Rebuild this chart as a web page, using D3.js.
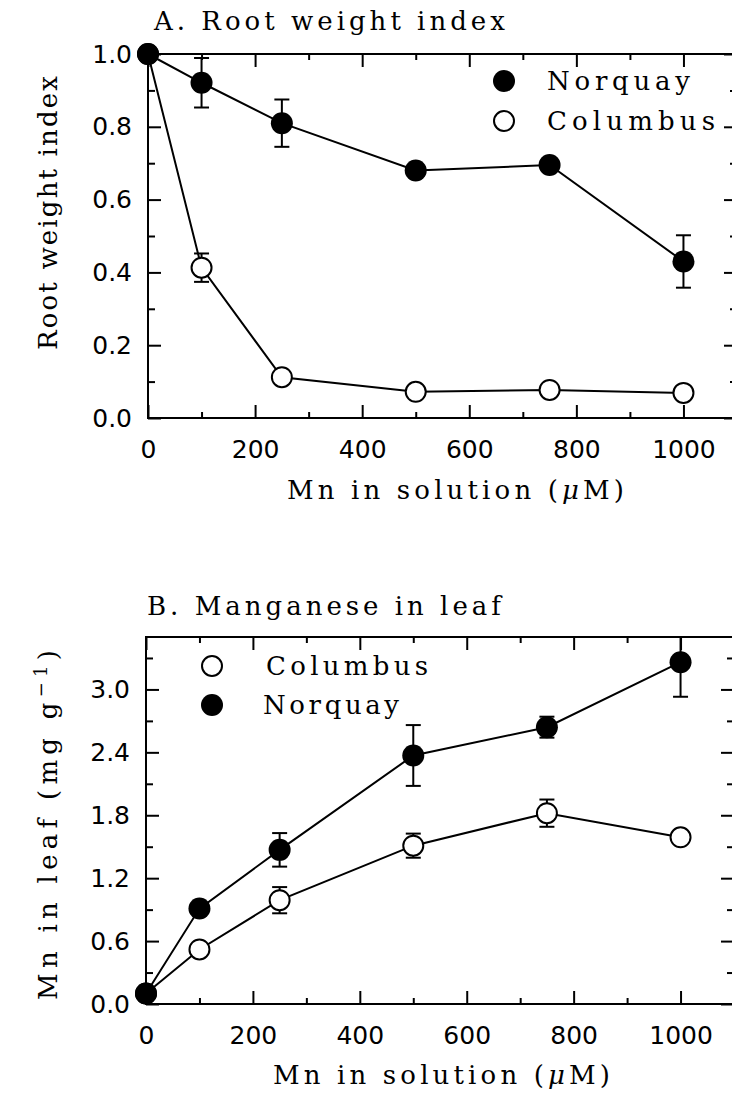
<!DOCTYPE html>
<html><head><meta charset="utf-8">
<script src="https://cdn.jsdelivr.net/npm/d3@7"></script>
<style>body{margin:0;background:#fff}</style>
</head><body>
<svg id="c" width="732" height="1096"></svg>
<script>
// ---- data ----
const doses = [0, 100, 250, 500, 750, 1000];
const rootNorquay = [1.0, 0.921, 0.81, 0.68, 0.695, 0.43];
const rootNorquayErr = [0, 0.068, 0.065, 0.015, 0.015, 0.072];
const rootColumbus = [1.0, 0.413, 0.112, 0.072, 0.077, 0.069];
const rootColumbusErr = [0, 0.039, 0.01, 0.01, 0.01, 0.01];
const leafColumbus = [0.1, 0.52, 0.99, 1.51, 1.82, 1.59];
const leafColumbusErr = [0, 0.03, 0.125, 0.115, 0.13, 0.04];
const leafNorquay = [0.1, 0.91, 1.47, 2.37, 2.64, 3.26];
const leafNorquayErr = [0, 0.04, 0.16, 0.29, 0.1, 0.33];
const xTickValues = [0, 200, 400, 600, 800, 1000];
const xMinorValues = [100, 300, 500, 700, 900];
const rootTickValues = [0, 0.2, 0.4, 0.6, 0.8, 1.0];
const rootMinorValues = [0.1, 0.3, 0.5, 0.7, 0.9];
const leafTickValues = [0, 0.6, 1.2, 1.8, 2.4, 3.0];
const leafMinorValues = [0.3, 0.9, 1.5, 2.1, 2.7, 3.3];

const svg = d3.select("#c");
const SERIF = "'DejaVu Serif', serif";
const SANS = "'DejaVu Sans', sans-serif";
const FS = 26;

function fit(t, w) {
  const n = t.text().length;
  const L = t.node().getComputedTextLength();
  t.attr("letter-spacing", ((w - L) / (n - 1)).toFixed(2) + "px");
  return t;
}

function styleAxis(g) {
  g.select(".domain").remove();
  g.selectAll(".tick line").attr("stroke", "#000").attr("stroke-width", 2);
  g.selectAll(".tick text").attr("font-family", SANS).attr("font-size", 25).attr("fill", "#000");
}

function panel(cfg) {
  const g = svg.append("g");
  const x = d3.scaleLinear().domain([0, 1100]).range([cfg.x0, cfg.x1]);
  const y = d3.scaleLinear().domain([0, cfg.ymax]).range([cfg.yb, cfg.yt]);

  // axes (ticks pointing inward)
  g.append("g").attr("transform", `translate(0,${cfg.yb})`)
    .call(d3.axisBottom(x).tickValues(xTickValues).tickSize(-13).tickPadding(22).tickFormat(d3.format("d"))).call(styleAxis);
  g.append("g").attr("transform", `translate(0,${cfg.yb})`)
    .call(d3.axisBottom(x).tickValues(xMinorValues).tickSize(-6).tickFormat("")).call(styleAxis);
  g.append("g").attr("transform", `translate(0,${cfg.yt})`)
    .call(d3.axisTop(x).tickValues(xTickValues).tickSize(-13).tickFormat("")).call(styleAxis);
  g.append("g").attr("transform", `translate(0,${cfg.yt})`)
    .call(d3.axisTop(x).tickValues(xMinorValues).tickSize(-6).tickFormat("")).call(styleAxis);
  g.append("g").attr("transform", `translate(${cfg.x0},0)`)
    .call(d3.axisLeft(y).tickValues(cfg.yTicks).tickSize(-13).tickPadding(16).tickFormat(d3.format(".1f"))).call(styleAxis);
  g.append("g").attr("transform", `translate(${cfg.x0},0)`)
    .call(d3.axisLeft(y).tickValues(cfg.yMinor).tickSize(-7).tickFormat("")).call(styleAxis);
  g.append("g").attr("transform", `translate(${cfg.x1},0)`)
    .call(d3.axisRight(y).tickValues(cfg.yTicks).tickSize(-13).tickFormat("")).call(styleAxis);
  g.append("g").attr("transform", `translate(${cfg.x1},0)`)
    .call(d3.axisRight(y).tickValues(cfg.yMinor).tickSize(-7).tickFormat("")).call(styleAxis);

  // frame
  g.append("rect").attr("x", cfg.x0).attr("y", cfg.yt)
    .attr("width", cfg.x1 - cfg.x0).attr("height", cfg.yb - cfg.yt)
    .attr("fill", "none").attr("stroke", "#000").attr("stroke-width", 2);

  const line = d3.line().x(d => x(d.x)).y(d => y(d.y));
  cfg.series.forEach(s => {
    const pts = doses.map((d, i) => ({x: d, y: s.values[i], e: s.err[i]}));
    g.append("path").datum(pts).attr("d", line).attr("fill", "none")
      .attr("stroke", "#000").attr("stroke-width", 2);
    s.pts = pts;
  });
  cfg.series.forEach(s => {
    const eb = g.append("g");
    s.pts.filter(p => p.e > 0).forEach(p => {
      const hi = y(Math.min(cfg.ymax, p.y + p.e)), lo = y(p.y - p.e), cx = x(p.x);
      eb.append("line").attr("x1", cx).attr("x2", cx).attr("y1", hi).attr("y2", lo)
        .attr("stroke", "#000").attr("stroke-width", 2);
      [hi, lo].forEach(v => eb.append("line").attr("x1", cx - 7.5).attr("x2", cx + 7.5)
        .attr("y1", v).attr("y2", v).attr("stroke", "#000").attr("stroke-width", 2));
    });
  });
  cfg.series.forEach(s => {
    g.append("g").selectAll("circle").data(s.pts).join("circle")
      .attr("cx", d => x(d.x)).attr("cy", d => y(d.y))
      .attr("r", s.filled ? 11 : 10)
      .attr("fill", s.filled ? "#000" : "#fff")
      .attr("stroke", "#000").attr("stroke-width", s.filled ? 0 : 2);
  });

  // legend
  cfg.legend.forEach(l => {
    g.append("circle").attr("cx", l.cx).attr("cy", l.cy).attr("r", l.filled ? 11 : 10)
      .attr("fill", l.filled ? "#000" : "#fff").attr("stroke", "#000").attr("stroke-width", l.filled ? 0 : 2);
    fit(g.append("text").attr("x", l.tx).attr("y", l.cy + 9).attr("font-family", SERIF)
      .attr("font-size", FS).text(l.label), l.w);
  });

  // title
  fit(g.append("text").attr("x", cfg.titleX).attr("y", cfg.titleY).attr("font-family", SERIF)
    .attr("font-size", FS).text(cfg.title), cfg.titleW);

  // x axis title
  const xt = g.append("text").attr("x", cfg.xtX).attr("y", cfg.xtY).attr("font-family", SERIF).attr("font-size", FS);
  xt.append("tspan").text("Mn in solution (");
  xt.append("tspan").attr("font-style", "italic").text("\u03bc");
  xt.append("tspan").text("M)");
  fit(xt, cfg.xtW);

  // y axis title
  const yt = g.append("text").attr("transform", `translate(${cfg.ytX},${cfg.ytY}) rotate(-90)`)
    .attr("font-family", SERIF).attr("font-size", FS);
  cfg.yTitle(yt);
  fit(yt, cfg.ytW);
}

panel({
  x0: 148, x1: 737, yt: 54, yb: 418, ymax: 1.0,
  yTicks: rootTickValues, yMinor: rootMinorValues,
  series: [
    {values: rootColumbus, err: rootColumbusErr, filled: false},
    {values: rootNorquay, err: rootNorquayErr, filled: true}
  ],
  legend: [
    {cx: 504, cy: 81, tx: 547, label: "Norquay", w: 143, filled: true},
    {cx: 504, cy: 121, tx: 547, label: "Columbus", w: 168, filled: false}
  ],
  title: "A. Root weight index", titleX: 154, titleY: 30, titleW: 351,
  xtX: 287, xtY: 499, xtW: 337,
  ytX: 57, ytY: 350, ytW: 274,
  yTitle: t => t.text("Root weight index")
});

panel({
  x0: 146, x1: 734, yt: 637, yb: 1004, ymax: 3.5,
  yTicks: leafTickValues, yMinor: leafMinorValues,
  series: [
    {values: leafColumbus, err: leafColumbusErr, filled: false},
    {values: leafNorquay, err: leafNorquayErr, filled: true}
  ],
  legend: [
    {cx: 212, cy: 666, tx: 266, label: "Columbus", w: 162, filled: false},
    {cx: 212, cy: 705, tx: 263, label: "Norquay", w: 136, filled: true}
  ],
  title: "B. Manganese in leaf", titleX: 147, titleY: 615, titleW: 354,
  xtX: 273, xtY: 1084, xtW: 337,
  ytX: 57, ytY: 1000, ytW: 350,
  yTitle: t => {
    t.append("tspan").text("Mn in leaf (mg g");
    t.append("tspan").attr("baseline-shift", "super").attr("font-size", 18).text("\u22121");
    t.append("tspan").text(")");
  }
});
</script>
</body></html>
